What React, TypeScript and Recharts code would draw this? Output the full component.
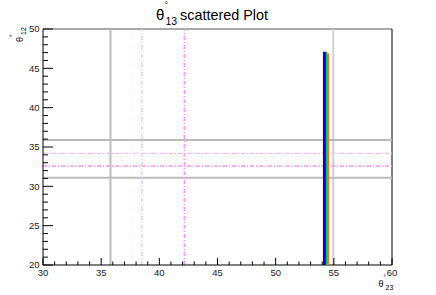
import React from 'react';
import { ScatterChart, Scatter, XAxis, YAxis, ReferenceLine } from 'recharts';

// ---- data ----
const xTicks = [30,31,32,33,34,35,36,37,38,39,40,41,42,43,44,45,46,47,48,49,50,51,52,53,54,55,56,57,58,59,60];
const yTicks = [20,21,22,23,24,25,26,27,28,29,30,31,32,33,34,35,36,37,38,39,40,41,42,43,44,45,46,47,48,49,50];
const xMajorLabels = [30, 35, 40, 45, 50, 55, 60];
const yMajorLabels = [20, 25, 30, 35, 40, 45, 50];

// scattered points of theta23 vs theta12 (vertical stripes)
const bluePoints = [{ x: 54.2, y: 20 }, { x: 54.2, y: 47.1 }];
const greenPoints = [{ x: 54.36, y: 20 }, { x: 54.36, y: 47.1 }];
const redPoints = [{ x: 54.5, y: 20 }, { x: 54.5, y: 46.9 }];

// bounds
const greyX = [35.8];
const greyXLight = [54.95];
const greyY = [35.9, 31.1];
const magentaXLight = [38.5];
const magentaXDark = [42.15];
const magentaYLight = [34.2];
const magentaYDark = [32.6];

const FONT = '"Liberation Sans", Arial, Helvetica, sans-serif';

const XTick = (props: any) => {
  const { x, y, payload } = props;
  const v = payload.value;
  const major = xMajorLabels.includes(v);
  return (
    <g>
      <line x1={x} y1={y} x2={x} y2={y - (major ? 7 : 3.5)} stroke="#000" strokeWidth={1} />
      {major && (
        <text x={x} y={y + 10.5} textAnchor="middle" fontSize={9.5} fontFamily={FONT} fill="#222">
          {v}
        </text>
      )}
    </g>
  );
};

const YTick = (props: any) => {
  const { x, y, payload } = props;
  const v = payload.value;
  const major = yMajorLabels.includes(v);
  return (
    <g>
      <line x1={x} y1={y} x2={x + (major ? 10 : 5)} y2={y} stroke="#000" strokeWidth={1} />
      {major && (
        <text x={x - 3.5} y={y + 3.3} textAnchor="end" fontSize={9.5} fontFamily={FONT} fill="#222">
          {v}
        </text>
      )}
    </g>
  );
};

const noShape = () => <g />;

export default function App() {
  return (
    <div style={{ position: 'absolute', left: 0, top: 0, width: 436, height: 295, background: '#fff' }}>
      <ScatterChart width={436} height={295} margin={{ top: 29, right: 44, bottom: 0, left: 0 }}>
        <XAxis
          type="number"
          dataKey="x"
          domain={[30, 60]}
          ticks={xTicks}
          interval={0}
          allowDataOverflow
          height={30}
          tickSize={0}
          tickMargin={0}
          tickLine={false}
          axisLine={{ stroke: '#000', strokeWidth: 1 }}
          tick={<XTick />}
        />
        <YAxis
          type="number"
          dataKey="y"
          domain={[20, 50]}
          ticks={yTicks}
          interval={0}
          allowDataOverflow
          width={43}
          tickSize={0}
          tickMargin={0}
          tickLine={false}
          axisLine={{ stroke: '#000', strokeWidth: 1 }}
          tick={<YTick />}
        />
        <ReferenceLine y={50} stroke="#8c8c8c" strokeWidth={1.5} />
        <ReferenceLine x={60} stroke="#000" strokeWidth={1} />
        {greyX.map((v) => (
          <ReferenceLine key={'gx' + v} x={v} stroke="#bbbbbb" strokeWidth={2} />
        ))}
        {greyXLight.map((v) => (
          <ReferenceLine key={'gxl' + v} x={v} stroke="#d0d0d0" strokeWidth={2} />
        ))}
        {greyY.map((v) => (
          <ReferenceLine key={'gy' + v} y={v} stroke="#bbbbbb" strokeWidth={2} />
        ))}
        {magentaXLight.map((v) => (
          <ReferenceLine key={'mxl' + v} x={v} stroke="#ffb4ff" strokeWidth={1.3} strokeDasharray="4 2 1 2" />
        ))}
        {magentaXDark.map((v) => (
          <ReferenceLine key={'mxd' + v} x={v} stroke="#ff90ff" strokeWidth={1.5} strokeDasharray="4 2 1 2" />
        ))}
        {magentaYLight.map((v) => (
          <ReferenceLine key={'myl' + v} y={v} stroke="#ffb4ff" strokeWidth={1.3} strokeDasharray="4 2 1 2" />
        ))}
        {magentaYDark.map((v) => (
          <ReferenceLine key={'myd' + v} y={v} stroke="#ff90ff" strokeWidth={1.5} strokeDasharray="4 2 1 2" />
        ))}
        <Scatter data={redPoints} line={{ stroke: '#ff6060', strokeWidth: 2.2 }} shape={noShape} isAnimationActive={false} />
        <Scatter data={bluePoints} line={{ stroke: '#0000ee', strokeWidth: 3.2 }} shape={noShape} isAnimationActive={false} />
        <Scatter data={greenPoints} line={{ stroke: '#00cc00', strokeWidth: 1.3 }} shape={noShape} isAnimationActive={false} />
      </ScatterChart>
      <svg width={436} height={295} style={{ position: 'absolute', left: 0, top: 0, pointerEvents: 'none' }}>
        <g fontFamily={FONT} fill="#000">
          <text x={156} y={19.5} fontSize={15}>θ</text>
          <text x={164.5} y={8} fontSize={9}>°</text>
          <text x={165.5} y={25} fontSize={10.5}>13</text>
          <text x={180} y={19.5} fontSize={14.4}>scattered Plot</text>
        </g>
        <g fontFamily={FONT} fill="#000" transform="translate(22.5,42) rotate(-90)">
          <text x={0} y={0} fontSize={9}>θ</text>
          <text x={5} y={-8} fontSize={6.5}>°</text>
          <text x={7} y={3} fontSize={7}>12</text>
        </g>
        <g fontFamily={FONT} fill="#000">
          <text x={378.5} y={287} fontSize={9}>θ</text>
          <text x={383.5} y={280} fontSize={6.5}>°</text>
          <text x={385.5} y={290} fontSize={7}>23</text>
        </g>
      </svg>
    </div>
  );
}
